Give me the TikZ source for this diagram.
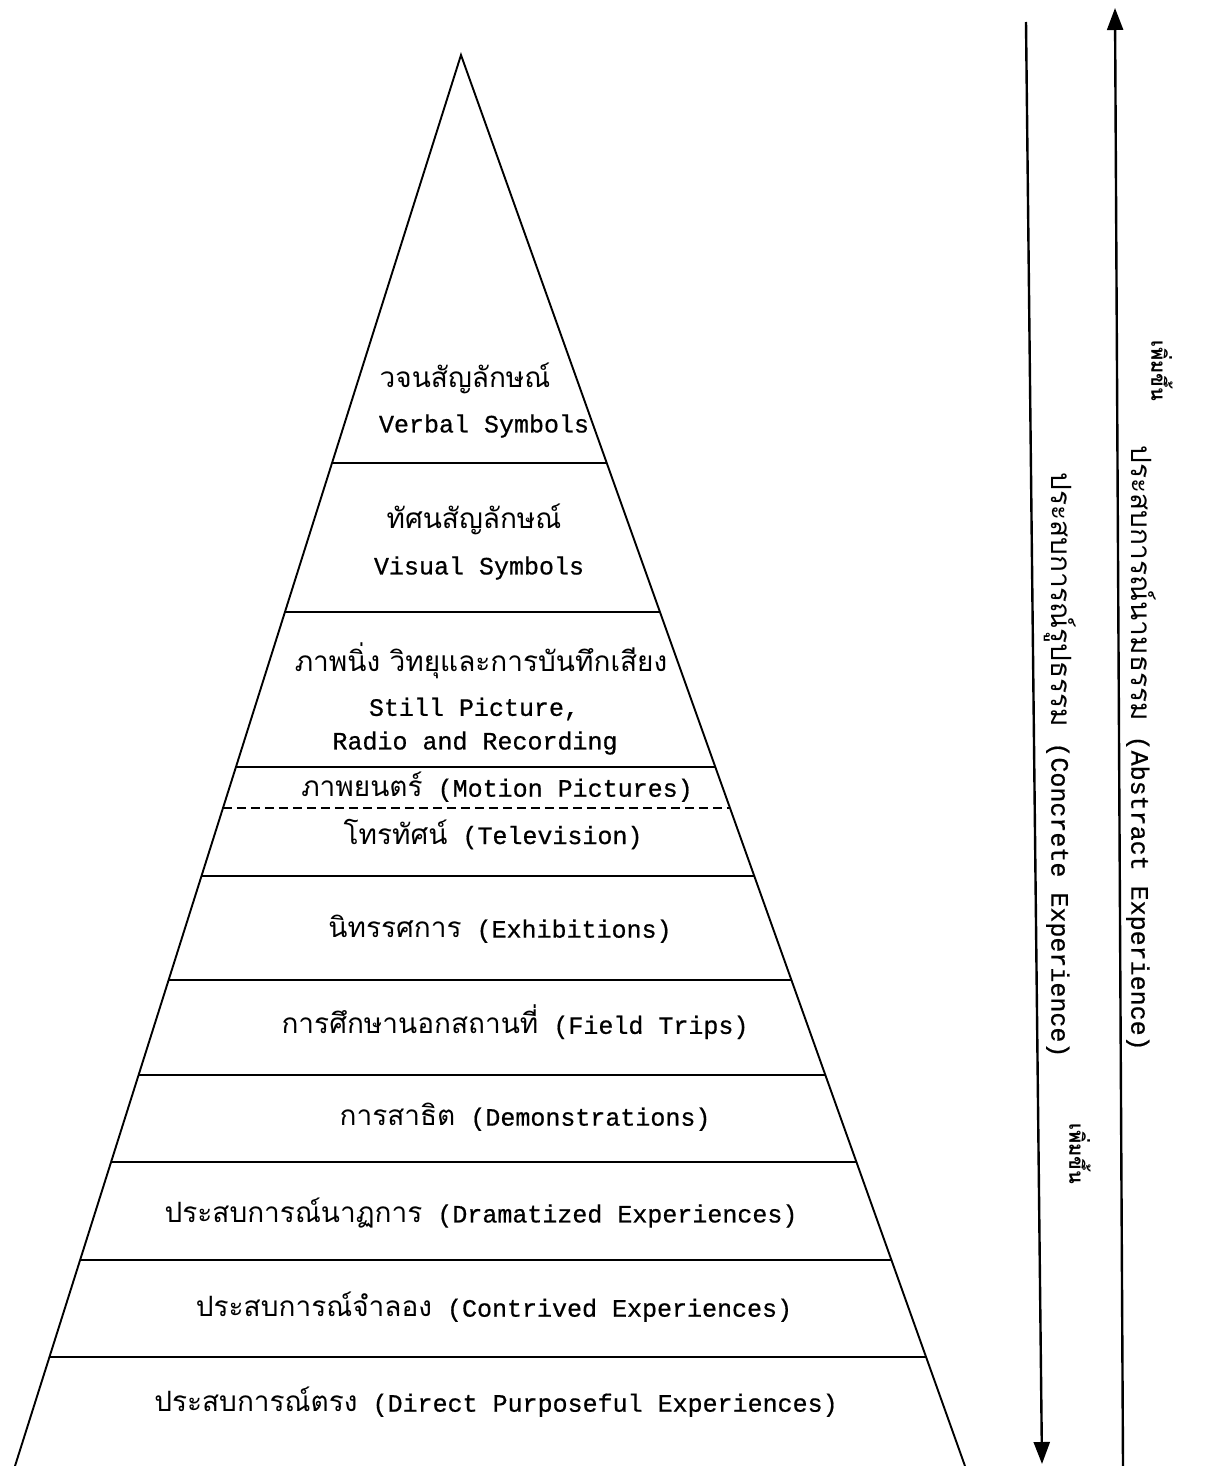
\documentclass[tikz,border=0pt]{standalone}
\usepackage{fontspec}
\setmainfont{Liberation Mono}[UprightFeatures={FakeBold=0.6}]
\newfontfamily\thai[Script=Thai,Scale=1.12]{Loma}
\usetikzlibrary{arrows.meta,calc}
\begin{document}
\begin{tikzpicture}[x=1pt,y=-1pt,
  side/.style={line width=1.9pt},
  band/.style={line width=1.9pt},
  lbl/.style={inner sep=0pt,font=\fontsize{25}{30}\selectfont},
  vlbl/.style={inner sep=0pt,rotate=-90,font=\fontsize{25}{30}\selectfont},
  inc/.style={inner sep=0pt,rotate=-90,font=\thai\bfseries\fontsize{18}{20}\selectfont},
  axis/.style={line width=2.4pt,-{Triangle[width=16pt,length=22pt]}}]
\useasboundingbox[fill=white] (0,0) rectangle (1215,1466);
% triangle
\coordinate (apex) at (461,55);
\coordinate (bl) at (15,1466);
\coordinate (br) at (965,1466);
\draw[side] (bl) -- (apex) -- (br);
% bands
\foreach \yy/\nm in {463/a,612/b,767/c,876/d,980/e,1075/f,1162/g,1260/h,1357/i}{
  \pgfmathsetmacro{\tt}{(\yy-55)/1411}
  \draw[band] ($(apex)!\tt!(bl)$) coordinate (L\nm) -- ($(apex)!\tt!(br)$) coordinate (R\nm);
}
\pgfmathsetmacro{\td}{(808-55)/1411}
\draw[line width=1.3pt,dash pattern=on 9pt off 5pt] ($(apex)!\td!(bl)$) coordinate (Ld) -- ($(apex)!\td!(br)$) coordinate (Rd);
% labels
\node[lbl] (t1) at (465,378) {\thai วจนสัญลักษณ์};
\node[lbl] (e1) at (484,426) {Verbal Symbols};
\node[lbl] (t2) at (474,519) {\thai ทัศนสัญลักษณ์};
\node[lbl] (e2) at (479,568) {Visual Symbols};
\node[lbl] (t3) at (481,661) {\thai ภาพนิ่ง วิทยุและการบันทึกเสียง};
\node[lbl] (e3) at (474,709) {Still Picture,};
\node[lbl] (e3b) at (475,743) {Radio and Recording};
\node[lbl] (t4) at (497,787) {{\thai ภาพยนตร์} (Motion Pictures)};
\node[lbl] (t5) at (493,834) {{\thai โทรทัศน์} (Television)};
\node[lbl] (t6) at (500,929) {{\thai นิทรรศการ} (Exhibitions)};
\node[lbl] (t7) at (515,1022) {{\thai การศึกษานอกสถานที่} (Field Trips)};
\node[lbl] (t8) at (525,1117) {{\thai การสาธิต} (Demonstrations)};
\node[lbl] (t9) at (481,1213) {{\thai ประสบการณ์นาฏการ} (Dramatized Experiences)};
\node[lbl] (t10) at (494,1307) {{\thai ประสบการณ์จำลอง} (Contrived Experiences)};
\node[lbl] (t11) at (496,1402) {{\thai ประสบการณ์ตรง} (Direct Purposeful Experiences)};
% axes
\coordinate (c1) at (1026,22);
\coordinate (c2) at (1042,1464);
\draw[axis] (c1) -- (c2);
\coordinate (a1) at (1123,1466);
\coordinate (a2) at (1115,8);
\draw[axis] (a1) -- (a2);
\node[vlbl] (vc) at (1060,765) {{\thai ประสบการณ์รูปธรรม} (Concrete Experience)};
\node[vlbl] (va) at (1141,748) {{\thai ประสบการณ์นามธรรม} (Abstract Experience)};
\node[inc] (ic) at (1080,1154) {เพิ่มขึ้น};
\node[inc] (ia) at (1162,371) {เพิ่มขึ้น};
\end{tikzpicture}
\end{document}
